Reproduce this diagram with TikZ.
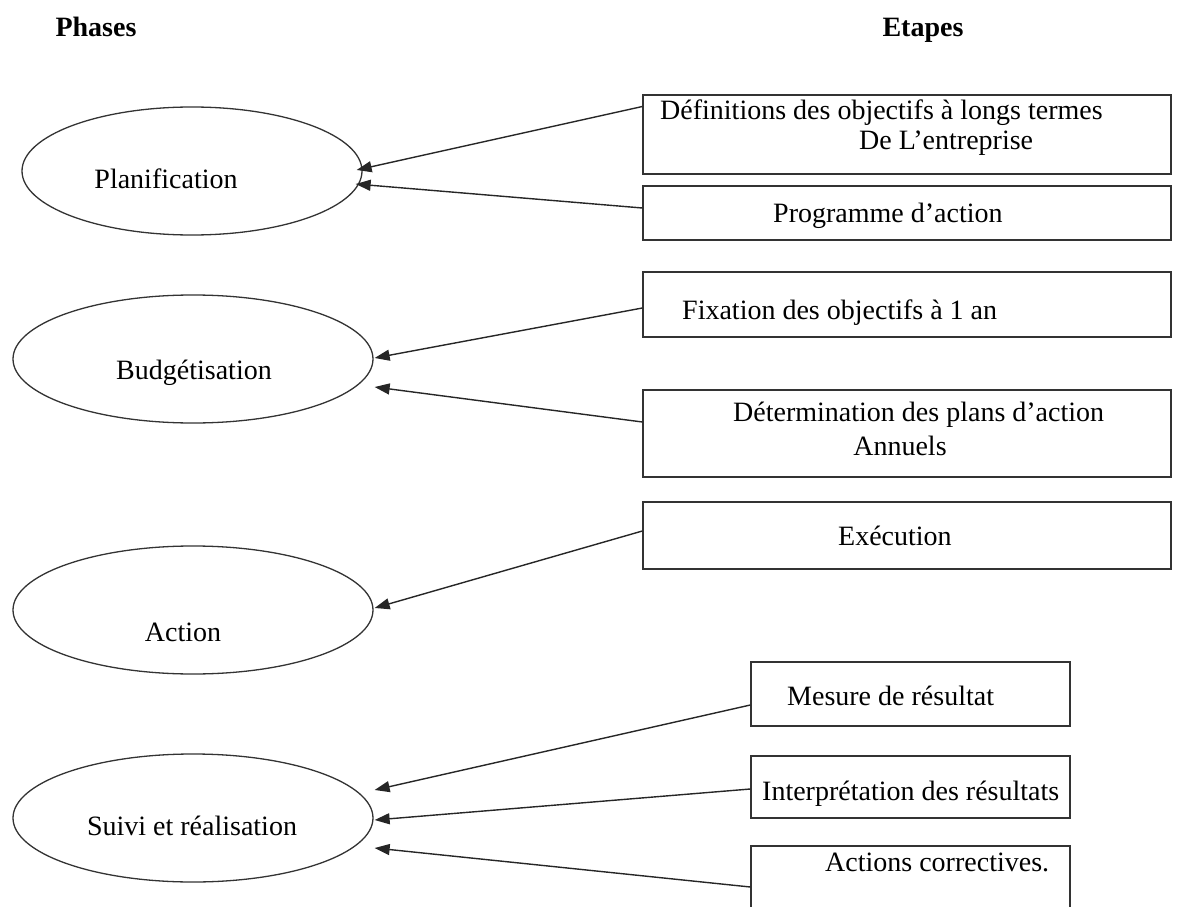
\documentclass[tikz,border=0pt]{standalone}
\usepackage{fontspec}
\setmainfont{Liberation Serif}
\usetikzlibrary{shapes.geometric, arrows.meta, positioning}
\tikzset{basic/.style={draw=black!80, line width=1.3pt, fill=none}}
\tikzset{phase/.style={basic, ellipse, inner sep=0pt, minimum height=128}}
\tikzset{etape/.style={basic, rectangle, inner sep=0pt}}
\tikzset{txt/.style={inner sep=0pt, font=\fontsize{28}{33}\selectfont}}
\tikzset{heading/.style={inner sep=0pt, anchor=base, font=\fontsize{28}{33}\selectfont\bfseries}}
\tikzset{link/.style={draw=black!85, line width=1.4pt,
                      -{Triangle[length=15pt,width=11pt]}}}

\begin{document}
\begin{tikzpicture}[x=1pt,y=-1pt]
    \useasboundingbox (0,0) rectangle (1187,907);
    \clip (0,0) rectangle (1187,907);
    % Column titles
    \node[heading] (phases) at (96,37) {Phases};
    \node[heading] (etapes) at (923,37) {Etapes};
    % Draw phase ellipses
    \foreach \name/\x/\y/\w in {plan/192/171/340, budget/193/359/360,
                                action/193/610/360, suivi/193/818/360}{%
        \node[phase, minimum width=\w] (\name) at (\x,\y) {};
      }
    \node[txt] (plan_txt) at (166,179) {Planification};
    \node[txt] (budget_txt) at (194,373) {Budgétisation};
    \node[txt] (action_txt) at (183,632) {Action};
    \node[txt] (suivi_txt) at (192,826) {Suivi et réalisation};
    % Draw step boxes
    \foreach \name/\x/\y/\w/\h in {d1/907/134.5/528/79, d2/907/213/528/54,
                                   d3/907/304.5/528/65, d4/907/433.5/528/87,
                                   d5/907/535.5/528/67, d6/910.5/694/319/64,
                                   d7/910.5/787/319/62, d8/910.5/903/319/114}{%
        \node[etape, minimum width=\w, minimum height=\h] (\name) at (\x,\y) {};
      }
    % Texts of the steps
    \node[txt, anchor=west] (d1_txt) at (660,113) {Définitions des objectifs à longs termes};
    \node[txt, anchor=west] (d1_txt2) at (859,143) {De L’entreprise};
    \node[txt, anchor=west] (d2_txt) at (773,216) {Programme d’action};
    \node[txt, anchor=west] (d3_txt) at (682,313) {Fixation des objectifs à 1 an};
    \node[txt, anchor=west] (d4_txt) at (733,415) {Détermination des plans d’action};
    \node[txt] (d4_txt2) at (900,446) {Annuels};
    \node[txt, anchor=west] (d5_txt) at (838,536) {Exécution};
    \node[txt, anchor=west] (d6_txt) at (787,696) {Mesure de résultat};
    \node[txt, anchor=west] (d7_txt) at (762,794) {Interprétation des résultats};
    \node[txt, anchor=west] (d8_txt) at (825,862) {Actions correctives.};
    % Draw edges from steps to phases
    \foreach \from/\fy/\to/\tx/\ty in {d1/-28/plan/-6/-1, d2/-5/plan/-7/13,
                                       d3/3.5/budget/1/-1, d4/-11.5/budget/1/28,
                                       d5/-4.5/action/1/-2, d6/11/suivi/1/-28,
                                       d7/2/suivi/1/2, d8/-16/suivi/1/30}{%
        \draw[link] ([shift={(0,\fy)}]\from.west) -- ([shift={(\tx,\ty)}]\to.east);
      }
\end{tikzpicture}
\end{document}
